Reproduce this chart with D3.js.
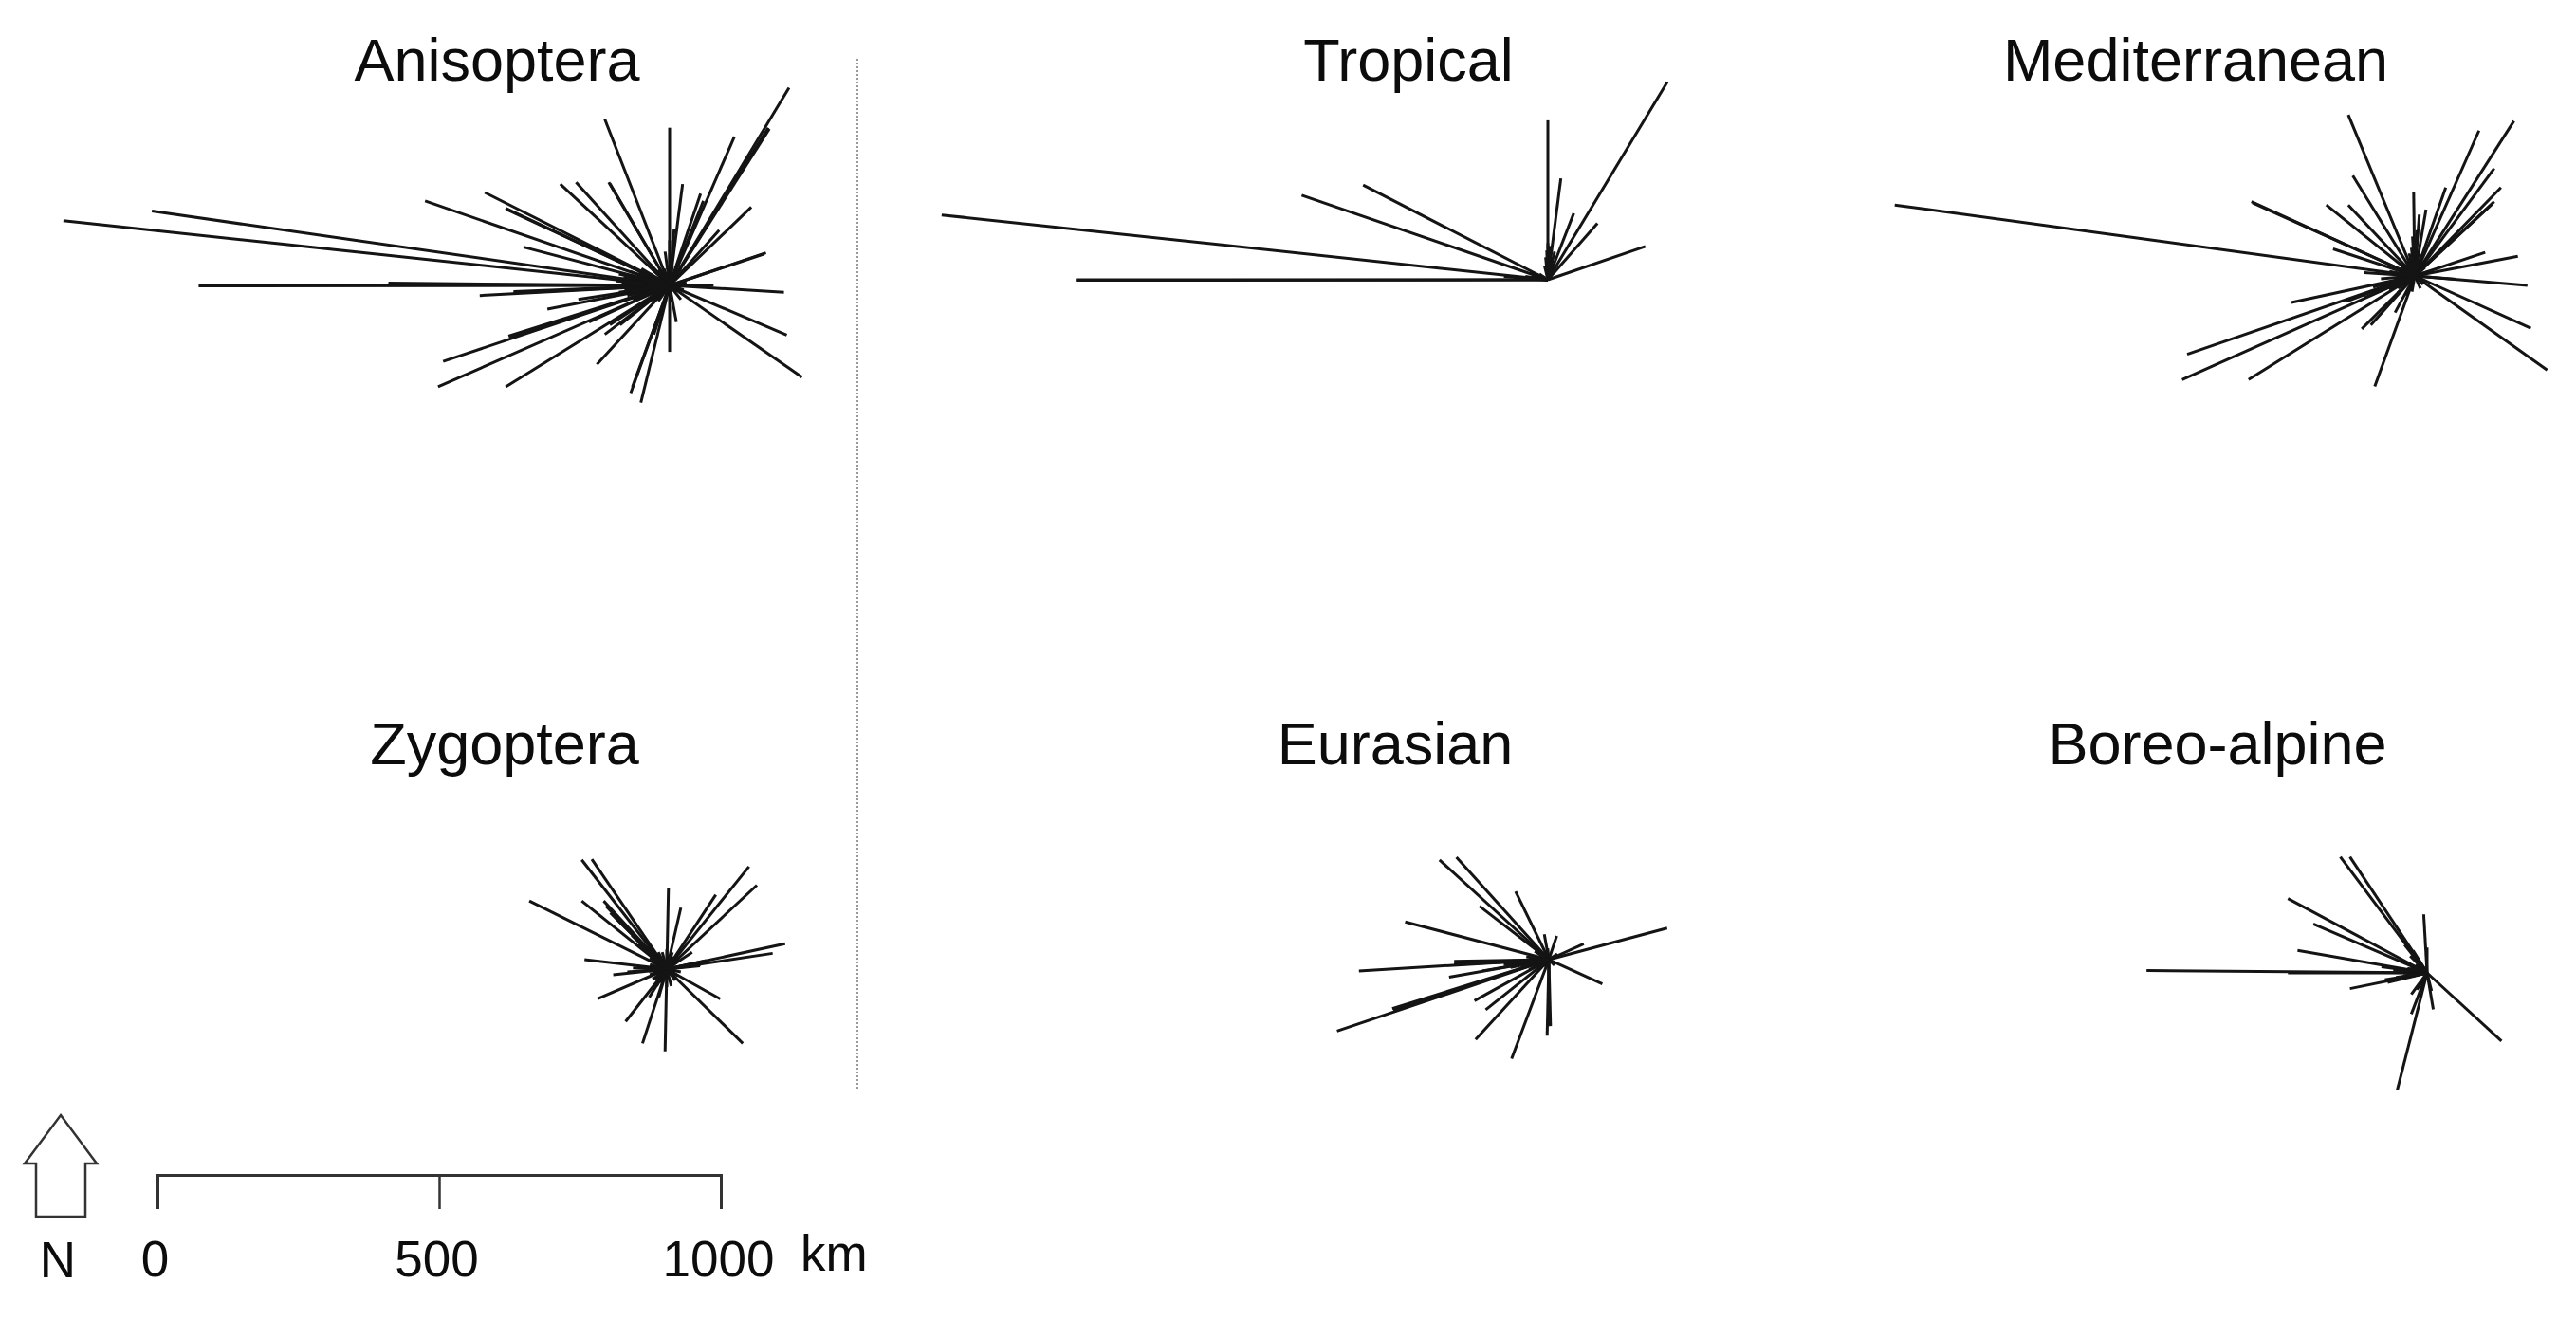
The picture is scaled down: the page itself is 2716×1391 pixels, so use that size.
<!DOCTYPE html>
<html>
<head>
<meta charset="utf-8">
<title>Range shift vectors</title>
<script src="https://cdn.jsdelivr.net/npm/d3@7"></script>
<style>
    html, body { margin: 0; background: #fff; }
    text { font-family: "Liberation Sans", Arial, sans-serif; fill: #0c0c0c; }
</style>
</head>
<body>
<div id="wrapper"></div>
<script>
// each pair: km east, km north of the shift
const anisoptera = [
    [-1076, 115], [-919, 132], [-836, -1], [-499, 4], [-499, 2], [-337, -18], [-277, -11], [-277, -13],
    [-434, 150], [-328, 165], [-291, 137], [-289, 135], [-259, 68], [-194, 180], [-166, 183], [-115, 295],
    [-108, 183], [-106, 181], [0, 280], [23, 180], [115, 264], [212, 351], [175, 280], [177, 278], [55, 163],
    [60, 150], [145, 139], [88, 98], [171, 58], [168, 56], [203, -12], [78, 0], [208, -88], [235, -163],
    [0, -118], [12, -65], [-51, -208], [-69, -191], [-66, -180], [-28, -87], [-129, -140], [-291, -180],
    [-411, -180], [-402, -135], [-286, -90], [-284, -92], [-217, -42], [-162, -25], [-115, -87], [-88, -70],
    [-106, -70], [-143, -65], [0, 80], [8, 100], [-8, 60], [-82, 14], [-85, 5], [-80, -8], [-75, -18], [-70, 25],
    [-65, -25], [-50, 30], [-45, -30], [-30, 28], [-30, -30], [-10, 30], [-10, -30], [20, 30], [20, -25], [30, 5],
    [-60, 8], [-60, -8], [-40, 12], [-40, -12], [-20, 15], [-20, -15], [10, 15], [12, -12], [25, -8],
    [-72, 18], [-72, -14], [-68, 2], [-55, 22], [-55, -20], [-35, 20], [-35, -22], [-20, 28], [-20, -28], [5, 35],
    [4, -30], [-90, 20], [-95, 8], [-90, -12]
];
const tropical = [
    [-1076, 115], [-836, 0], [-836, -1], [-437, 150], [-328, 168], [0, 283], [23, 180], [46, 118], [88, 100],
    [212, 351], [173, 59], [0, 65], [4, 60], [-4, 40], [8, 40], [12, 50], [-32, 14], [-28, 8], [-78, 6], [-50, 3],
    [-20, 6], [6, 20], [-6, 25], [-2, 52], [2, 30], [-60, 2], [-40, 6], [-15, 10]
];
const mediterranean = [
    [-923, 126], [-290, 132], [-288, 130], [-145, 48], [-157, 126], [-118, 126], [-110, 178], [-118, 286],
    [-2, 150], [20, 118], [8, 109], [55, 157], [114, 258], [176, 275], [141, 191], [153, 157], [141, 132],
    [138, 128], [125, 42], [183, 35], [200, -17], [74, -6], [206, -93], [235, -167], [-71, -196], [-94, -94],
    [-78, -87], [-35, -65], [-295, -184], [-413, -184], [-404, -139], [-219, -47], [-90, -39], [-121, -45],
    [4, 81], [-4, 70], [2, 60], [-12, 31], [-74, -20], [-50, -18], [-90, 6], [-45, 8], [-30, -22], [-15, -35],
    [15, 25], [20, -10], [25, 8], [-25, 15], [-15, 25], [10, -22], [-60, -5], [-35, -8], [-6, 50], [6, 45], [-10, 40],
    [12, 38], [-70, -28], [-45, -25], [-30, -30], [-20, 20], [18, 15], [15, -15], [-5, -28], [-62, -16]
];
const zygoptera = [
    [-244, 121], [-151, 194], [-133, 195], [-151, 121], [-112, 121], [-146, 17], [-95, -10], [-123, -53],
    [-73, -93], [-43, -132], [-3, -146], [135, -132], [95, -53], [210, 45], [188, 28], [160, 149], [146, 182],
    [87, 132], [25, 109], [3, 143], [-108, 112], [-100, 100], [-90, 90], [59, 6], [-31, -50], [-14, -50],
    [-25, 34], [-30, -10], [-25, 15], [20, 20], [15, -20], [-10, -25], [0, 35], [-30, 20], [10, 30], [-15, 30],
    [25, 5], [25, -5], [-30, 2], [-8, 30], [8, -30], [-20, -20], [-50, 45], [45, 30], [70, 15], [60, 8],
    [-20, 25], [-25, -18], [-30, 8], [-32, -4], [5, 25], [12, 22], [18, 12], [20, -12], [0, -32], [-18, -30],
    [-62, 60], [40, 6], [-60, 2], [-70, -5]
];
const eurasian = [
    [-194, 177], [-164, 182], [-123, 95], [-59, 121], [-255, 67], [-337, -20], [-168, -3], [-168, -6], [-168, -9],
    [-177, -31], [-278, -87], [-276, -90], [-376, -127], [-132, -73], [-112, -89], [-130, -142], [-66, -176],
    [-3, -135], [3, -118], [0, -118], [95, -43], [210, 56], [62, 28], [14, 42], [-8, 45], [-118, -20], [-40, 5],
    [-30, -10], [-25, 15], [10, -10], [15, 10], [-15, 15], [-10, -12], [-2, 20], [-50, -15], [-60, -5], [-35, -18],
    [-20, 12], [-28, -5], [-18, -15], [-2, -14], [-40, -12], [-80, -9], [-110, -6], [-68, -14]
];
const boreoAlpine = [
    [-154, 206], [-137, 206], [-247, 132], [-202, 87], [-230, 40], [-498, 4], [-247, 0], [-137, -28], [-70, -17],
    [-53, -208], [-28, -73], [11, -65], [132, -121], [-6, 104], [0, 45], [-81, 11], [-30, 5], [-25, -5], [-15, 12],
    [-20, 15], [-12, 5], [-30, 12], [-35, -2], [-60, 5], [-75, -12], [-18, -30], [-40, 50], [-25, 40], [-28, -38],
    [-40, 4], [-35, 8], [-42, -5], [-55, -8], [-45, 22], [-30, 30], [-20, 28], [8, -32]
];
const panelNames = ["Anisoptera", "Tropical", "Mediterranean", "Zygoptera", "Eurasian", "Boreo-alpine"];
const scaleTicks = [0, 500, 1000];

const dimension = { width: 2716, height: 1391 };
const kmLength = 594; // pixels per 1000 km on the scale bar

const panels = [
    { name: panelNames[0], data: anisoptera, cx: 706, cy: 301, tx: 524, ty: 85 },
    { name: panelNames[1], data: tropical, cx: 1632, cy: 295, tx: 1485, ty: 85 },
    { name: panelNames[2], data: mediterranean, cx: 2546, cy: 291, tx: 2315, ty: 85 },
    { name: panelNames[3], data: zygoptera, cx: 703, cy: 1022, tx: 532, ty: 806 },
    { name: panelNames[4], data: eurasian, cx: 1633, cy: 1012, tx: 1471, ty: 806 },
    { name: panelNames[5], data: boreoAlpine, cx: 2559, cy: 1026, tx: 2338, ty: 806 }
];

const svg = d3.select("#wrapper").append("svg")
    .attr("width", dimension.width)
    .attr("height", dimension.height)
    .style("display", "block");

panels.forEach(p => {
    const xScale = d3.scaleLinear().domain([0, 1000]).range([p.cx, p.cx + kmLength]);
    const yScale = d3.scaleLinear().domain([0, 1000]).range([p.cy, p.cy - kmLength]);

    const g = svg.append("g").attr("class", "panel");

    g.selectAll("line")
        .data(p.data)
        .enter()
        .append("line")
        .attr("x1", xScale(0))
        .attr("y1", yScale(0))
        .attr("x2", d => xScale(d[0]))
        .attr("y2", d => yScale(d[1]))
        .attr("stroke", "#141414")
        .attr("stroke-width", 3);

    g.append("text")
        .attr("x", p.tx)
        .attr("y", p.ty)
        .attr("text-anchor", "middle")
        .style("font-size", "63px")
        .text(p.name);
});

// dotted divider between suborders and climate groups
svg.append("line")
    .attr("x1", 904).attr("x2", 904)
    .attr("y1", 62).attr("y2", 1150)
    .attr("stroke", "#999")
    .attr("stroke-width", 2)
    .attr("stroke-dasharray", "2 2");

// scale bar
const barScale = d3.scaleLinear().domain([0, 1000]).range([166, 760]);
const barAxis = svg.append("g")
    .attr("transform", "translate(0,1239)")
    .call(d3.axisBottom(barScale).tickValues(scaleTicks).tickFormat(d3.format("d")).tickSize(36).tickPadding(33));
barAxis.select(".domain").attr("stroke", "#333").attr("stroke-width", 3);
barAxis.selectAll(".tick line").attr("stroke", "#333").attr("stroke-width", 2.5);
barAxis.selectAll(".tick text")
    .attr("dx", -3)
    .style("font-size", "53px")
    .style("font-family", "'Liberation Sans', Arial, sans-serif");

svg.append("text")
    .attr("x", 844).attr("y", 1340)
    .style("font-size", "53px")
    .text("km");

// north arrow
svg.append("path")
    .attr("d", d3.line()([[64, 1176], [102, 1227], [90, 1227], [90, 1283], [38, 1283], [38, 1227], [26, 1227]]) + "Z")
    .attr("fill", "#fff")
    .attr("stroke", "#333")
    .attr("stroke-width", 2.5);

svg.append("text")
    .attr("x", 61).attr("y", 1347)
    .attr("text-anchor", "middle")
    .style("font-size", "53px")
    .text("N");
</script>
</body>
</html>
